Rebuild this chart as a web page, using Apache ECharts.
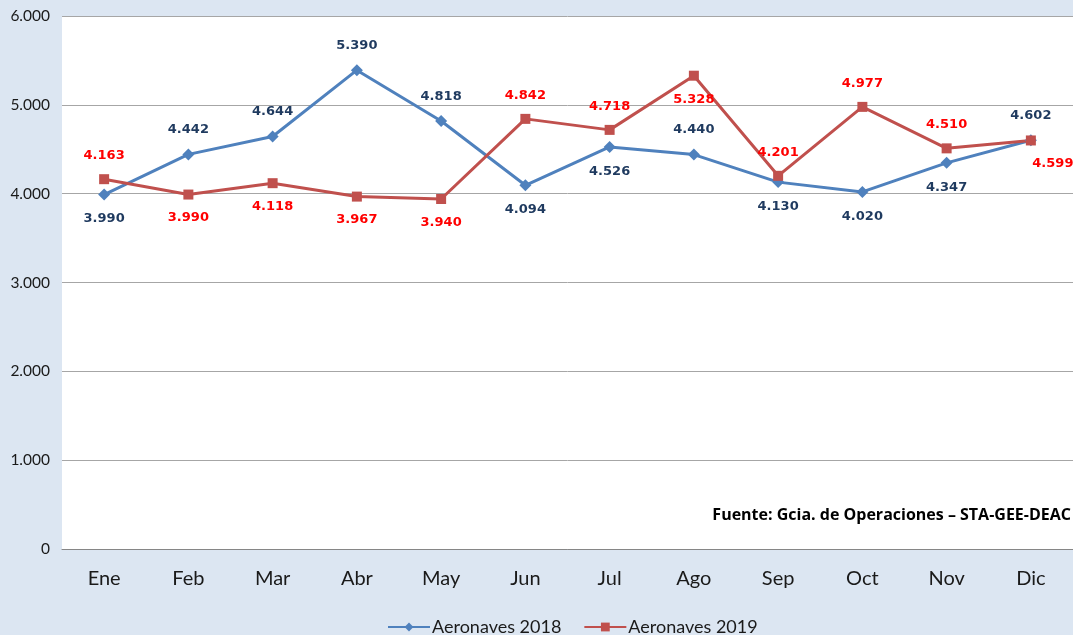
<!DOCTYPE html>
<html><head><meta charset="utf-8">
<script src="https://cdn.jsdelivr.net/npm/echarts@6/dist/echarts.min.js"></script>
<style>html,body{margin:0;padding:0;background:#dce6f2;}#c{width:1073px;height:635px;}</style>
</head><body><div id="c"></div>
<script>
const categories = ['Ene','Feb','Mar','Abr','May','Jun','Jul','Ago','Sep','Oct','Nov','Dic'];
const aeronaves2018 = [3990, 4442, 4644, 5390, 4818, 4094, 4526, 4440, 4130, 4020, 4347, 4602];
const aeronaves2019 = [4163, 3990, 4118, 3967, 3940, 4842, 4718, 5328, 4201, 4977, 4510, 4599];
const yTicks = [0, 1000, 2000, 3000, 4000, 5000, 6000];
const seriesNames = ['Aeronaves 2018', 'Aeronaves 2019'];
const sourceText = 'Fuente: Gcia. de Operaciones \u2013 STA-GEE-DEAC';

// label placement (styling, not data)
const place2018 = ['bottom','top','top','top','top','bottom','bottom','top','bottom','bottom','bottom','top'];
const place2019 = ['top','bottom','bottom','bottom','bottom','top','top','bottom','top','top','top','bottomRight'];

function fmt(v){ v = Math.round(v); const s = String(v); return s.length > 3 ? s.slice(0, s.length-3) + '.' + s.slice(s.length-3) : s; }

function build(vals, places){
  return vals.map((v,i)=>{
    let p = places[i];
    let lab = {position: p};
    if (p === 'bottomRight') lab = {position: 'bottom', offset: [22, 0]};
    return {value: v, label: lab};
  });
}

const chart = echarts.init(document.getElementById('c'), null, {renderer:'canvas'});
chart.setOption({
  backgroundColor: '#dce6f2',
  animation: false,
  grid: {left: 62, right: -2, top: 16, bottom: 86, show: true, backgroundColor: '#ffffff', borderWidth: 0},
  xAxis: {
    type: 'category', data: categories, boundaryGap: true,
    axisLine: {lineStyle: {color: '#868686', width: 1}},
    axisTick: {show: false},
    axisLabel: {color: '#1a1a1a', fontSize: 20, fontFamily: 'Lato', margin: 20}
  },
  yAxis: {
    type: 'value', min: yTicks[0], max: yTicks[yTicks.length-1], interval: 1000,
    axisLine: {show: false}, axisTick: {show: false},
    splitLine: {lineStyle: {color: '#a6a6a6', width: 1}},
    axisLabel: {color: '#1a1a1a', fontSize: 15.5, fontFamily: 'Lato', margin: 12, formatter: v => fmt(v)}
  },
  legend: {
    bottom: -6, left: 382, itemGap: 22, itemWidth: 42, itemHeight: 11,
    textStyle: {fontSize: 18, fontFamily: 'Lato', color: '#1a1a1a', padding: [0, 0, 0, -3]},
    data: seriesNames
  },
  graphic: [{
    type: 'text', right: 2, top: 507,
    style: {text: sourceText, font: 'bold 16px "Open Sans"', fill: '#000'}
  }],
  series: [
    {
      name: seriesNames[0], type: 'line', data: build(aeronaves2018, place2018),
      symbol: 'diamond', symbolSize: 12,
      lineStyle: {color: '#4f81bd', width: 3}, itemStyle: {color: '#4f81bd'},
      label: {show: true, distance: 12, color: '#1f3a5f', fontWeight: 'bold', fontSize: 13, fontFamily: 'DejaVu Sans', formatter: p => fmt(p.value)}
    },
    {
      name: seriesNames[1], type: 'line', data: build(aeronaves2019, place2019),
      symbol: 'rect', symbolSize: 10,
      lineStyle: {color: '#c0504d', width: 3}, itemStyle: {color: '#c0504d'},
      label: {show: true, distance: 12, color: '#ff0000', fontWeight: 'bold', fontSize: 13, fontFamily: 'DejaVu Sans', formatter: p => fmt(p.value)}
    }
  ]
});
</script></body></html>
